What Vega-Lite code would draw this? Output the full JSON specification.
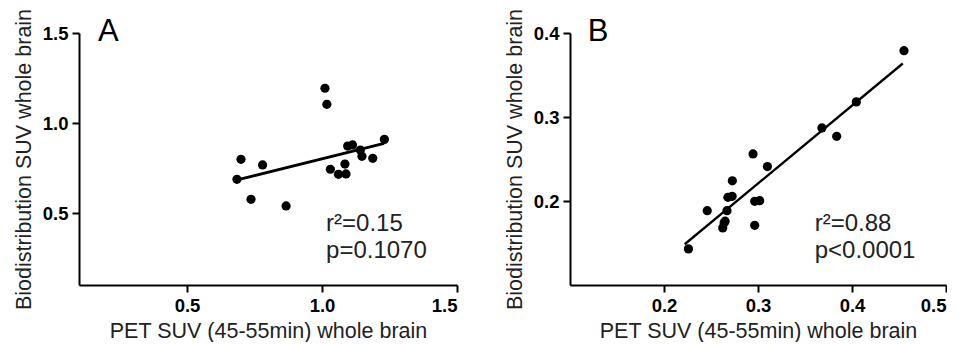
{
  "$schema": "https://vega.github.io/schema/vega-lite/v6.json",
  "padding": {"left": 13, "top": 8, "right": 0, "bottom": 0},
  "spacing": 46,
  "datasets": {
    "a": [
      {"x": 0.685, "y": 0.687}, {"x": 0.700, "y": 0.798}, {"x": 0.737, "y": 0.576},
      {"x": 0.780, "y": 0.767}, {"x": 0.867, "y": 0.539}, {"x": 1.011, "y": 1.193},
      {"x": 1.018, "y": 1.104}, {"x": 1.031, "y": 0.743}, {"x": 1.061, "y": 0.715},
      {"x": 1.089, "y": 0.717}, {"x": 1.085, "y": 0.772}, {"x": 1.095, "y": 0.872},
      {"x": 1.113, "y": 0.878}, {"x": 1.142, "y": 0.850}, {"x": 1.148, "y": 0.815},
      {"x": 1.188, "y": 0.804}, {"x": 1.231, "y": 0.909}
    ],
    "a_fit": [{"x": 0.69, "y": 0.685}, {"x": 1.23, "y": 0.887}],
    "a_letter": [{"x": 0.17, "y": 1.456, "label": "A"}],
    "a_stats": [{"x": 1.015, "y": 0.40, "label": "r²=0.15"}, {"x": 1.015, "y": 0.25, "label": "p=0.1070"}],
    "b": [
      {"x": 0.226, "y": 0.143}, {"x": 0.246, "y": 0.1885}, {"x": 0.2625, "y": 0.168},
      {"x": 0.264, "y": 0.174}, {"x": 0.265, "y": 0.176}, {"x": 0.267, "y": 0.1885},
      {"x": 0.268, "y": 0.2044}, {"x": 0.2725, "y": 0.2056}, {"x": 0.2727, "y": 0.224},
      {"x": 0.2947, "y": 0.256}, {"x": 0.310, "y": 0.241}, {"x": 0.2965, "y": 0.1996},
      {"x": 0.3018, "y": 0.2004}, {"x": 0.2965, "y": 0.171}, {"x": 0.368, "y": 0.287},
      {"x": 0.3837, "y": 0.277}, {"x": 0.4046, "y": 0.318}, {"x": 0.4553, "y": 0.379}
    ],
    "b_fit": [{"x": 0.222, "y": 0.1485}, {"x": 0.454, "y": 0.3637}],
    "b_letter": [{"x": 0.119, "y": 0.3905, "label": "B"}],
    "b_stats": [{"x": 0.3603, "y": 0.1647, "label": "r²=0.88"}, {"x": 0.3603, "y": 0.1318, "label": "p<0.0001"}]
  },
  "hconcat": [
    {
      "width": 378,
      "height": 252,
      "encoding": {
        "x": {"field": "x", "type": "quantitative", "scale": {"domain": [0.1, 1.5], "nice": false, "zero": false},
              "axis": {"values": [0.5, 1.0, 1.5], "format": ".1f", "title": "PET SUV (45-55min) whole brain"}},
        "y": {"field": "y", "type": "quantitative", "scale": {"domain": [0.1, 1.5], "nice": false, "zero": false},
              "axis": {"values": [0.5, 1.0, 1.5], "format": ".1f", "title": "Biodistribution SUV whole brain"}}
      },
      "layer": [
        {"data": {"name": "a_fit"}, "mark": {"type": "line", "color": "black", "strokeWidth": 2.8}},
        {"data": {"name": "a"}, "mark": {"type": "point", "filled": true, "color": "black", "opacity": 1, "size": 85}},
        {"data": {"name": "a_letter"}, "mark": {"type": "text", "align": "left", "baseline": "alphabetic", "fontSize": 31, "font": "Liberation Sans", "color": "black"},
         "encoding": {"text": {"field": "label"}}},
        {"data": {"name": "a_stats"}, "mark": {"type": "text", "align": "left", "baseline": "alphabetic", "fontSize": 24, "font": "Liberation Sans", "color": "#222"},
         "encoding": {"text": {"field": "label"}}}
      ]
    },
    {
      "width": 376,
      "height": 252,
      "encoding": {
        "x": {"field": "x", "type": "quantitative", "scale": {"domain": [0.1, 0.5], "nice": false, "zero": false},
              "axis": {"values": [0.2, 0.3, 0.4, 0.5], "format": ".1f", "title": "PET SUV (45-55min) whole brain"}},
        "y": {"field": "y", "type": "quantitative", "scale": {"domain": [0.1, 0.4], "nice": false, "zero": false},
              "axis": {"values": [0.2, 0.3, 0.4], "format": ".1f", "title": "Biodistribution SUV whole brain"}}
      },
      "layer": [
        {"data": {"name": "b_fit"}, "mark": {"type": "line", "color": "black", "strokeWidth": 2.3}},
        {"data": {"name": "b"}, "mark": {"type": "point", "filled": true, "color": "black", "opacity": 1, "size": 85}},
        {"data": {"name": "b_letter"}, "mark": {"type": "text", "align": "left", "baseline": "alphabetic", "fontSize": 31, "font": "Liberation Sans", "color": "black"},
         "encoding": {"text": {"field": "label"}}},
        {"data": {"name": "b_stats"}, "mark": {"type": "text", "align": "left", "baseline": "alphabetic", "fontSize": 24, "font": "Liberation Sans", "color": "#222"},
         "encoding": {"text": {"field": "label"}}}
      ]
    }
  ],
  "config": {
    "view": {"stroke": null},
    "axis": {
      "grid": false,
      "domainColor": "black", "domainWidth": 2,
      "tickColor": "black", "tickWidth": 2, "tickSize": 7,
      "labelFont": "Liberation Sans", "labelFontWeight": "bold", "labelFontSize": 18.5, "labelColor": "black", "labelPadding": 4,
      "titleFont": "Liberation Sans", "titleFontWeight": "normal", "titleFontSize": 21.5, "titleColor": "#222", "titlePadding": 7
    },
    "axisX": {"titlePadding": 6}
  }
}
